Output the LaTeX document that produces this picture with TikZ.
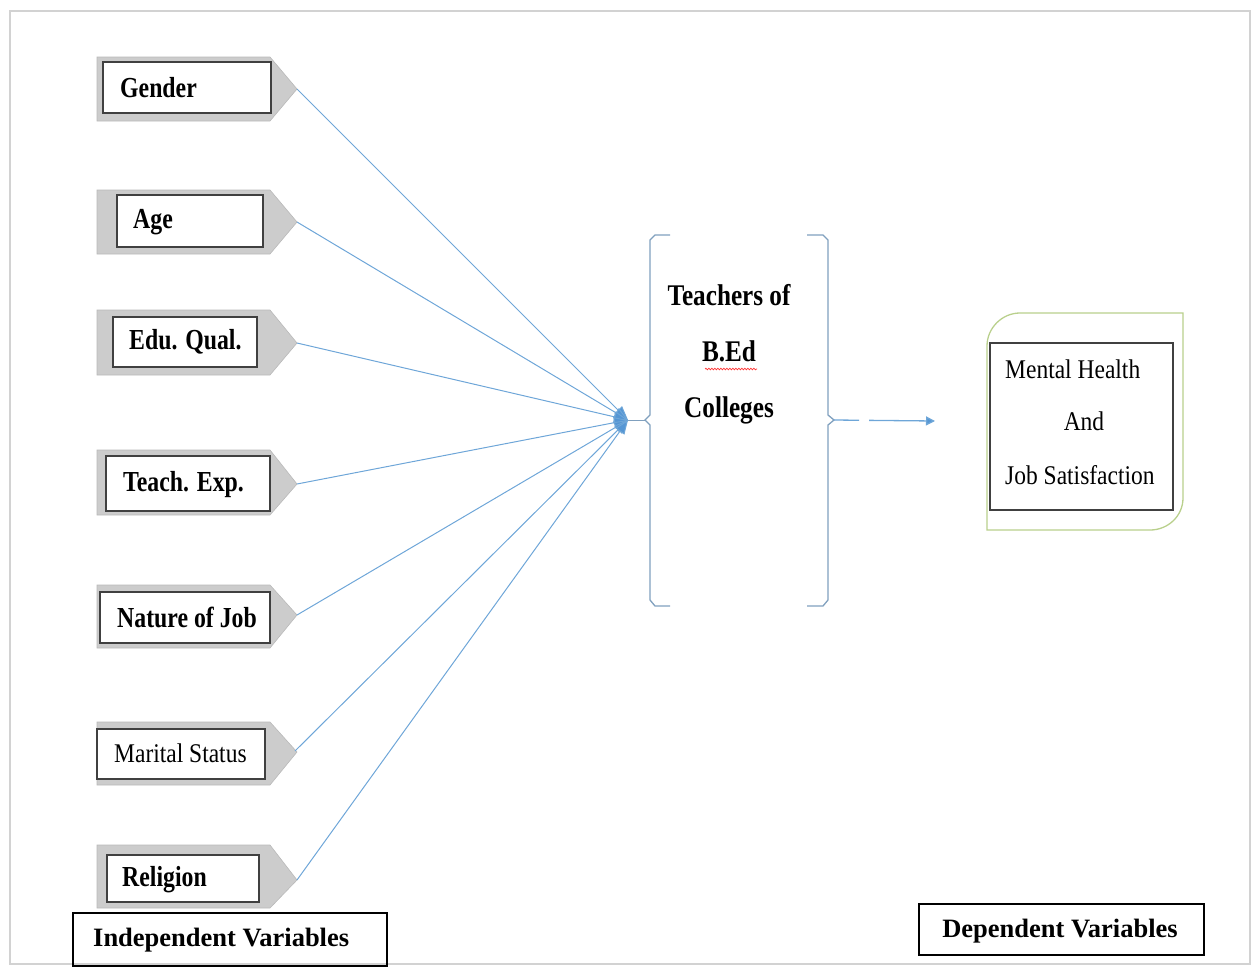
\documentclass[tikz,border=0pt]{standalone}
\usepackage{fontspec}
\setmainfont{Liberation Serif}
\newfontfamily\condb[FakeStretch=0.82]{Liberation Serif Bold}
\newfontfamily\condr[FakeStretch=0.87]{Liberation Serif}
\newfontfamily\condt[FakeStretch=0.84]{Liberation Serif Bold}
\usetikzlibrary{arrows.meta,decorations.pathmorphing}
\definecolor{lineblue}{RGB}{110,166,216}
\definecolor{tipblue}{RGB}{85,150,212}
\definecolor{brackc}{RGB}{128,160,190}
\definecolor{greenb}{RGB}{185,208,140}
\tikzset{
  tag/.style={fill=gray!40, draw=gray!55, line width=0.6pt},
  innerbox/.style={draw=black!75, fill=white, line width=1.6pt, inner sep=0pt},
  lbl/.style={font=\condb\fontsize{29}{34}\selectfont, inner sep=0pt, anchor=west},
  lblr/.style={font=\condr\fontsize{27}{32}\selectfont, inner sep=0pt, anchor=west},
  feed/.style={draw=lineblue, line width=1pt, -{Triangle[width=11pt,length=14pt,fill=tipblue]}},
  brack/.style={draw=brackc, line width=1.3pt},
  caption/.style={draw=black, line width=1.3pt, inner sep=0pt},
}
\begin{document}
\begin{tikzpicture}[x=1pt,y=-1pt]
\useasboundingbox (0,0) rectangle (1253,967);
% outer frame
\draw[gray!35, line width=2pt] (10,11) rectangle (1250,964);

% tags: #1 top, #2 bottom, #3 tip y
\newcommand{\tagshape}[3]{%
  \draw[tag] (97,#1) -- (270,#1) -- (297,#3) -- (270,#2) -- (97,#2) -- cycle;}

\tagshape{57}{121}{89}
\draw[innerbox] (103,62) rectangle (271,113);
\node[lbl] (g) at (120,88) {Gender};
\coordinate (t1) at (297,89);

\tagshape{190}{254}{222}
\draw[innerbox] (117,195) rectangle (263,247);
\node[lbl] (a) at (133,222) {Age};
\coordinate (t2) at (297,222);

\tagshape{310}{375}{343}
\draw[innerbox] (113,317) rectangle (257,367);
\node[lbl] (e) at (129,342) {Edu. Qual.};
\coordinate (t3) at (297,343);

\tagshape{450}{515}{484}
\draw[innerbox] (106,456) rectangle (270,511);
\node[lbl] (te) at (123,485) {Teach. Exp.};
\coordinate (t4) at (297,484);

\tagshape{585}{648}{615}
\draw[innerbox] (100,592) rectangle (270,643);
\node[lbl] (n) at (117,617) {Nature of Job};
\coordinate (t5) at (297,615);

\tagshape{722}{785}{752}
\draw[innerbox] (97,729) rectangle (265,779);
\node[lblr] (m) at (114,753) {Marital Status};
\coordinate (t6) at (295,751);

\tagshape{845}{908}{880}
\draw[innerbox] (107,855) rectangle (259,902);
\node[lbl] (r) at (122,880) {Religion};
\coordinate (t7) at (297,880);

% hub
\coordinate (hub) at (628,420);
\foreach \t in {t1,t2,t3,t4,t5,t6,t7}
  \draw[feed] (\t) -- (hub);

% brackets
\coordinate (lnotch) at (645,420);
\coordinate (rnotch) at (834,420);
\draw[brack] (670,235) -- (655,235) -- (650,240) -- (650,415) -- (lnotch) -- (650,425) -- (650,600) -- (655,606) -- (670,606);
\draw[brack] (807,235) -- (823,235) -- (828,240) -- (828,415) -- (rnotch) -- (828,425) -- (828,600) -- (823,606) -- (807,606);
\draw[brack, line width=1pt] (hub) -- (lnotch);

\node[font=\condt\fontsize{30}{56}\selectfont, align=center, inner sep=0pt] (tb) at (729,354)
  {Teachers of\\B.Ed\\Colleges};
\draw[red!80, line width=0.7pt, decorate, decoration={snake, amplitude=0.8pt, segment length=3pt}] (705,369) -- (757,369);

% dependent box
\draw[greenb, line width=1.3pt] (987,530) -- (987,346) .. controls (987,328) and (1002,313) .. (1020,313)
  -- (1183,313) -- (1183,498) .. controls (1183,516) and (1168,530) .. (1150,530) -- cycle;
\draw[innerbox] (990,343) rectangle (1173,510);
\node[lblr] (mh) at (1005,369) {Mental Health};
\node[font=\condr\fontsize{27}{32}\selectfont, inner sep=0pt] (and) at (1084,421) {And};
\node[lblr] (js) at (1005,475) {Job Satisfaction};
\coordinate (dep) at (935,421);
\draw[draw=lineblue, line width=1.3pt, dash pattern=on 25pt off 10pt on 60pt off 0pt, -{Triangle[width=9pt,length=9pt,fill=tipblue]}] (rnotch) -- (dep);

% captions
\draw[caption] (73,913) rectangle (387,966);
\node[font=\bfseries\fontsize{26.5}{30}\selectfont, inner sep=0pt, anchor=west] (iv) at (93,940) {Independent Variables};
\draw[caption] (919,904) rectangle (1204,955);
\node[font=\bfseries\fontsize{26.5}{30}\selectfont, inner sep=0pt] (dv) at (1060,931) {Dependent Variables};
\end{tikzpicture}
\end{document}
